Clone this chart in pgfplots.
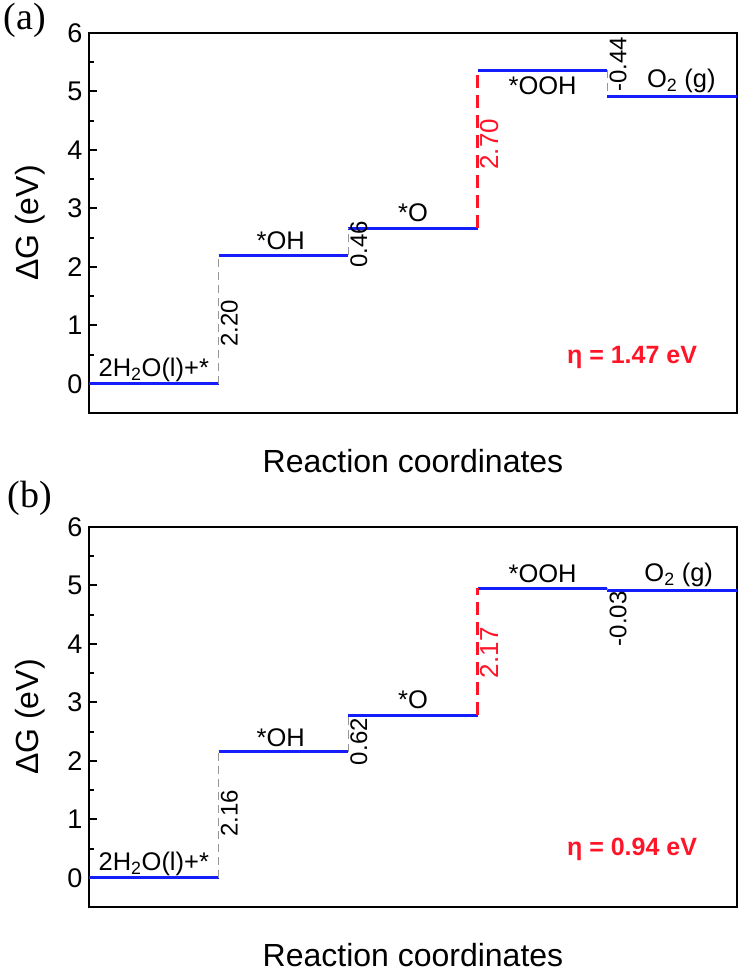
\documentclass[border=0pt]{standalone}
\usepackage{pgfplots}
\pgfplotsset{compat=1.18}
\usepackage{fontspec}
\setmainfont{Liberation Sans}
\newfontfamily\seriffont{Liberation Serif}
\definecolor{lvl}{RGB}{20,30,250}
\definecolor{lim}{RGB}{255,20,40}
\definecolor{con}{RGB}{150,150,150}
\pgfplotsset{
  ged/.style={
    scale only axis, width=648pt, height=380pt,
    xmin=0, xmax=5, ymin=-0.5, ymax=6,
    clip=false,
    axis line style={line width=2.2pt},
    xtick=\empty, ytick={0,1,2,3,4,5,6}, minor y tick num=1,
    tick align=inside, ytick pos=left,
    major tick length=8pt, minor tick length=5pt,
    every tick/.style={line width=2pt, black},
    /pgf/number format/assume math mode=true,
    yticklabel style={font=\fontsize{27}{27}\selectfont, xshift=-3pt},
    xlabel={Reaction coordinates}, ylabel={ΔG (eV)},
    label style={font=\fontsize{32}{32}\selectfont},
    xlabel style={at={(axis description cs:0.5,0)}, anchor=base, yshift=-59pt},
    ylabel style={at={(axis description cs:-0.091,0.5)}, anchor=center},
  },
  level/.style={lvl, line width=3pt},
  conn/.style={con, line width=1.3pt, dash pattern=on 8pt off 5pt},
  limit/.style={lim, line width=3pt, dash pattern=on 13pt off 7pt},
}
\tikzset{
  ann/.style={font=\fontsize{25.5}{25.5}\selectfont, inner sep=2pt},
  val/.style={font=\fontsize{24}{24}\selectfont, rotate=90, anchor=north, inner sep=2pt, xshift=4pt},
}
\begin{document}
\begin{tikzpicture}
\path[use as bounding box] (-89pt,33pt) rectangle (655pt,-941pt);
% ---------------- (a)
\begin{axis}[ged, at={(0pt,0pt)}, anchor=north west]
\addplot[level] coordinates {(0,0) (1,0)};
\addplot[level] coordinates {(1,2.20) (2,2.20)};
\addplot[level] coordinates {(2,2.66) (3,2.66)};
\addplot[level] coordinates {(3,5.36) (4,5.36)};
\addplot[level] coordinates {(4,4.92) (5,4.92)};
\addplot[conn] coordinates {(1,0) (1,2.20)};
\addplot[conn] coordinates {(2,2.20) (2,2.66)};
\addplot[limit] coordinates {(3,2.66) (3,5.36)};
\addplot[conn] coordinates {(4,5.36) (4,4.92)};
\node[ann, anchor=south] at (axis cs:0.5,0) {2H\textsubscript{2}O(l)+*};
\node[ann, anchor=south, yshift=3pt] at (axis cs:1.48,2.20) {*OH};
\node[ann, anchor=south, yshift=4pt] at (axis cs:2.5,2.66) {*O};
\node[ann, anchor=north, yshift=-4pt] at (axis cs:3.5,5.36) {*OOH};
\node[ann, anchor=south, yshift=1pt] at (axis cs:4.57,4.92) {O\textsubscript{2} (g)};
\node[val] at (axis cs:1,0.97) {2.20};
\node[val] at (axis cs:2,2.32) {0.46};
\node[val, text=lim, font=\fontsize{26}{26}\selectfont] at (axis cs:3,4.03) {2.70};
\node[val] at (axis cs:4,5.40) {-0.44};
\node[font=\bfseries\fontsize{25}{25}\selectfont, text=lim] at (axis cs:4.19,0.45) {η = 1.47 eV};
\node[font=\seriffont\fontsize{38}{38}\selectfont] at (rel axis cs:-0.099,1.034) {(a)};
\end{axis}
% ---------------- (b)
\begin{axis}[ged, at={(0pt,-494pt)}, anchor=north west]
\addplot[level] coordinates {(0,0) (1,0)};
\addplot[level] coordinates {(1,2.16) (2,2.16)};
\addplot[level] coordinates {(2,2.78) (3,2.78)};
\addplot[level] coordinates {(3,4.95) (4,4.95)};
\addplot[level] coordinates {(4,4.92) (5,4.92)};
\addplot[conn] coordinates {(1,0) (1,2.16)};
\addplot[conn] coordinates {(2,2.16) (2,2.78)};
\addplot[limit] coordinates {(3,2.78) (3,4.95)};
\addplot[conn] coordinates {(4,4.95) (4,4.92)};
\node[ann, anchor=south] at (axis cs:0.5,0) {2H\textsubscript{2}O(l)+*};
\node[ann, anchor=south, yshift=3pt] at (axis cs:1.48,2.16) {*OH};
\node[ann, anchor=south, yshift=4pt] at (axis cs:2.5,2.78) {*O};
\node[ann, anchor=south, yshift=3pt] at (axis cs:3.5,4.95) {*OOH};
\node[ann, anchor=south, yshift=1pt] at (axis cs:4.55,4.92) {O\textsubscript{2} (g)};
\node[val] at (axis cs:1,1.03) {2.16};
\node[val] at (axis cs:2,2.26) {0.62};
\node[val, text=lim, font=\fontsize{26}{26}\selectfont] at (axis cs:3,3.78) {2.17};
\node[val] at (axis cs:4,4.36) {-0.03};
\node[font=\bfseries\fontsize{25}{25}\selectfont, text=lim] at (axis cs:4.19,0.48) {η = 0.94 eV};
\node[font=\seriffont\fontsize{38}{38}\selectfont] at (rel axis cs:-0.091,1.076) {(b)};
\end{axis}
\end{tikzpicture}
\end{document}
